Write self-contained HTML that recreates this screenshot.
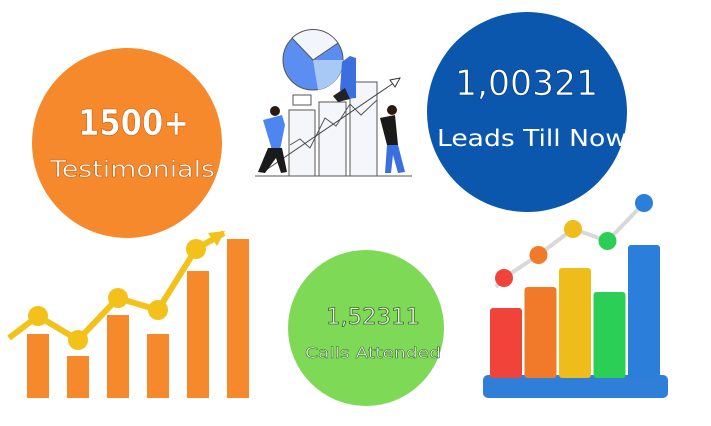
<!DOCTYPE html>
<html><head><meta charset="utf-8"><style>
body{margin:0;background:#fff;width:711px;height:426px;overflow:hidden;font-family:"DejaVu Sans","Liberation Sans",sans-serif}
svg{display:block}
</style></head><body>
<svg width="711" height="426" viewBox="0 0 711 426">
<g>
<circle cx="127" cy="143" r="95" fill="#f6892c"/>
<text x="78" y="135" textLength="111" lengthAdjust="spacingAndGlyphs" font-size="36" font-weight="bold" fill="#fff" stroke="#c05a10" stroke-width="0.6">1500+</text>
<text x="50" y="177" textLength="165" lengthAdjust="spacingAndGlyphs" font-size="23" fill="#fff" stroke="#c05a10" stroke-width="0.5">Testimonials</text>
</g>
<g>
<circle cx="527" cy="112" r="100" fill="#0b57ad"/>
<text x="455" y="95" textLength="143" lengthAdjust="spacingAndGlyphs" font-size="35" fill="#fff" stroke="#08336b" stroke-width="0.6">1,00321</text>
<text x="437" y="146" textLength="190" lengthAdjust="spacingAndGlyphs" font-size="23" fill="#fff">Leads Till Now</text>
</g>
<g>
<circle cx="366" cy="328" r="78" fill="#7ed957"/>
<text x="326" y="324" textLength="94" lengthAdjust="spacingAndGlyphs" font-size="22" fill="#fff" stroke="#2d6a17" stroke-width="0.8">1,52311</text>
<text x="305" y="358" textLength="136" lengthAdjust="spacingAndGlyphs" font-size="15" fill="#fff" stroke="#2d6a17" stroke-width="0.5">Calls Attended</text>
</g>
<g>
<line x1="255" y1="176" x2="412" y2="176" stroke="#555" stroke-width="1"/>
<rect x="289" y="110" width="26" height="66" fill="#f4f6fb" stroke="#555"/>
<rect x="319" y="102" width="27" height="74" fill="#f4f6fb" stroke="#555"/>
<rect x="350" y="82" width="27" height="94" fill="#f4f6fb" stroke="#555"/>
<rect x="293" y="95" width="18" height="10" fill="#fff" stroke="#555"/>
<polyline points="290,145 300,139 310,148 325,118 336,126 350,104 361,115 377,100" fill="none" stroke="#555"/>
<line x1="263" y1="172" x2="398" y2="80" stroke="#444" stroke-width="1"/>
<polygon points="400,78 390,80 395,87" fill="#fff" stroke="#333"/>
<circle cx="313" cy="60" r="30" fill="#5b8ef0" stroke="#555"/>
<path d="M313 60 L343 60 A30 30 0 0 1 318 90 Z" fill="#a8c8f5"/>
<path d="M313 60 L292 38 A30 30 0 0 1 338 43 Z" fill="#f2f6fc" stroke="#555"/>
<path d="M342 62 L350 56 L356 58 L356 98 L346 99 L340 90 Z" fill="#3b6fe0"/>
<path d="M333 96 L345 88 L350 99 L338 102 Z" fill="#222"/>
<path d="M263 120 L282 115 L285 125 L280 150 L272 150 Z" fill="#4d86f0"/>
<path d="M268 148 L282 148 L287 172 L281 173 L276 158 L265 173 L258 172 Z" fill="#1a1a1a"/>
<circle cx="275" cy="111" r="5" fill="#2b1a10"/>
<path d="M380 118 L395 115 L398 145 L387 145 Z" fill="#1a1a1a"/>
<path d="M387 145 L398 145 L405 172 L398 173 L393 155 L391 173 L385 173 Z" fill="#3b6fe0"/>
<circle cx="392" cy="110" r="5" fill="#2b1a10"/>
</g>
<g id="leftChart"></g>
<g id="rightChart"></g>
</svg>
<script>
const leftBars=[64,42,83,64,127,159];
const leftLine=[82,58,100,88,149];
const rightBars=[70,91,110,86,133];
const rightLine=[100,123,149,137,175];
const rightColors=["#f0443a","#f07a2a","#eebd1c","#2ccf55","#2b7fdb"];
const NS="http://www.w3.org/2000/svg";
function mk(t,a,p){const e=document.createElementNS(NS,t);for(const k in a)e.setAttribute(k,a[k]);p.appendChild(e);return e;}
const lg=document.getElementById('leftChart');
const lx=i=>27+i*40, lbw=22, lBase=398, ly=v=>lBase-v;
leftBars.forEach((v,i)=>{const r=mk('rect',{x:lx(i),y:ly(v),width:lbw,height:v,fill:'#f6892c'},lg);

});
let pts=[[9,338]];leftLine.forEach((v,i)=>pts.push([lx(i)+11-(i==4?2:0),ly(v)]));
const tip=[224,233];
const pl=mk('polyline',{points:pts.concat([tip]).map(p=>p.join(',')).join(' '),fill:'none',stroke:'#f2c21a','stroke-width':6,'stroke-linejoin':'round'},lg);


const ar=mk('polygon',{points:'225,231 208,233 217,246',fill:'#f2c21a'},lg);


pts.slice(1).forEach(p=>{const c=mk('circle',{cx:p[0],cy:p[1],r:10,fill:'#f2c21a'},lg);

});
const rg=document.getElementById('rightChart');
const rx=i=>490+i*34.5, rbw=32, rBase=378, ry=v=>rBase-v;
const base=mk('rect',{x:483,y:375,width:185,height:23,rx:5,fill:'#2f7ed8'},rg);


const rl=mk('polyline',{points:'496,287 '+rightLine.map((v,i)=>[rx(i)+14+(i==4?2:0),ry(v)].join(',')).join(' '),fill:'none',stroke:'#d8d8d8','stroke-width':4},rg);


rightBars.forEach((v,i)=>{const r=mk('rect',{x:rx(i),y:ry(v),width:rbw,height:v,rx:3,fill:rightColors[i]},rg);

});
rightLine.forEach((v,i)=>{const c=mk('circle',{cx:rx(i)+14+(i==4?2:0),cy:ry(v),r:9,fill:rightColors[i]},rg);

});
</script>
</body></html>
